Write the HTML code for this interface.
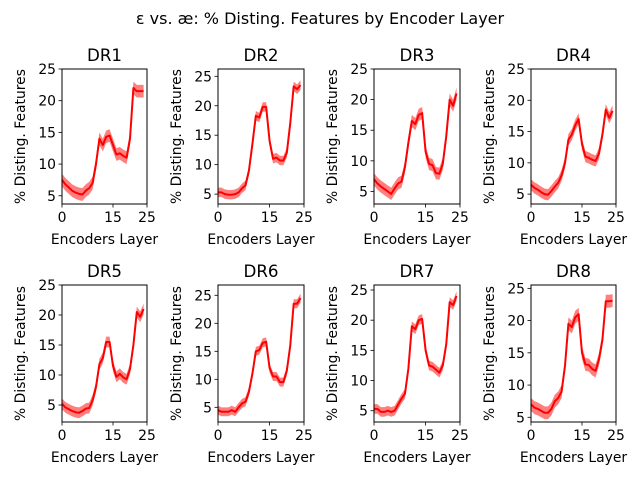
<!DOCTYPE html>
<html><head><meta charset="utf-8"><style>
body{margin:0;background:#fff}
svg{display:block;font-family:"DejaVu Sans","Liberation Sans",sans-serif}
</style></head><body>
<svg id="fig" width="640" height="480" viewBox="0 0 640 480">
<rect width="640" height="480" fill="#fff"/>
<text x="320" y="24" font-size="16" text-anchor="middle">ε vs. æ: % Disting. Features by Encoder Layer</text>
</svg>
<script>
const layers=[0,1,2,3,4,5,6,7,8,9,10,11,12,13,14,15,16,17,18,19,20,21,22,23,24];
const titles=["DR1","DR2","DR3","DR4","DR5","DR6","DR7","DR8"];
const dr1=[7.5,6.8,6.3,5.8,5.5,5.3,5.2,5.8,6.2,7,10,14,13,14.3,14.5,13,11.5,11.7,11.3,11,14,22,21.5,21.5,21.5];
const dr2=[5.3,5.3,5.0,4.9,4.9,5.0,5.3,6.0,6.5,9.0,13.5,18.3,18.0,19.8,19.8,14.0,11.0,11.2,10.7,10.7,12.0,17.0,23.3,22.8,23.5];
const dr3=[7,6.3,5.8,5.4,5,4.6,5.5,6.3,6.6,9,13,16.5,16,17.5,17.8,11.5,9.5,9.3,8,7.9,9.5,14,20,19,21];
const dr4=[6.5,6,5.7,5.3,5,4.9,5.5,6.2,6.8,8,10,13.7,14.5,16,17,13,11,10.8,10.5,10.3,11.5,14.5,18.5,17.2,18.3];
const dr5=[5.2,4.6,4.3,4,3.8,3.7,4,4.4,4.5,5.8,8,11.8,12.8,15.5,15.5,11.5,9.7,10.2,9.6,9.3,11,15,20.5,19.7,21];
const dr6=[4.5,4.2,4.2,4.2,4.5,4.2,5,5.7,6,7.8,11,15,15.2,16.5,16.7,12,10.5,10.5,9.5,9.5,11.5,16,23.5,23.5,24.5];
const dr7=[5.3,5.3,4.8,4.8,5,4.8,5,6,7,7.8,12,19,18.5,20,20.2,15,12.5,12.3,11.8,11.3,12.5,16,23,22.5,24];
const dr8=[7,6.5,6.3,6,5.7,5.7,6.3,7.5,8,9,13,19.5,19,20.5,21,15,13.2,13.1,12.5,12.2,14,17,23,23,23.1];
const errs=[1.0,0.8,1.0,0.9,0.9,0.8,0.8,1.0];
const yMins=[3.7,3.32,2.95,3.42,2.17,2.38,3.13,4.27];
const yMaxs=[25,26.24,25,25,25,26.84,25.83,25.52];
const xTicks=[0,15,25];
const yTicks=[5,10,15,20,25];
const series=[dr1,dr2,dr3,dr4,dr5,dr6,dr7,dr8];

const svg=document.getElementById('fig');
const NS='http://www.w3.org/2000/svg';
function mk(tag,attrs,parent){const e=document.createElementNS(NS,tag);for(const k in attrs)e.setAttribute(k,attrs[k]);(parent||svg).appendChild(e);return e;}
const colL=[62,218,374,531], colR=[147,304,460,616];
const rowT=[69,285], rowB=[204,422];

series.forEach((vals,i)=>{
  const r=Math.floor(i/4), c=i%4;
  const L=colL[c],R=colR[c],T=rowT[r],B=rowB[r];
  const xs=v=>L+(v-0)/(25-0)*(R-L);
  const ys=v=>B-(v-yMins[i])/(yMaxs[i]-yMins[i])*(B-T);
  const g=mk('g',{});
  
  
  const e=errs[i];
  let up=layers.map((x,k)=>xs(x)+','+ys(vals[k]+e));
  let lo=layers.map((x,k)=>xs(x)+','+ys(vals[k]-e)).reverse();
  const band=mk('polygon',{points:up.concat(lo).join(' '),fill:'#ff0000','fill-opacity':'0.5',stroke:'none'},g);
  
  
  const line=mk('polyline',{points:layers.map((x,k)=>xs(x)+','+ys(vals[k])).join(' '),fill:'none',stroke:'#ff0000','stroke-width':'2','stroke-linejoin':'round'},g);
  
  
  const frame=mk('rect',{x:L,y:T,width:R-L,height:B-T,fill:'none',stroke:'#000','stroke-width':'1'},g);
  
  
  xTicks.forEach(t=>{
    const x=xs(t);
    mk('line',{x1:x,x2:x,y1:B,y2:B+3.5,stroke:'#000','stroke-width':'0.8'},g);
    const tx=mk('text',{x:x,y:B+18,'font-size':'13.9','text-anchor':'middle'},g);
    tx.textContent=t;
    
    
  });
  yTicks.forEach(t=>{
    if(t<yMins[i]||t>yMaxs[i]+0.01)return;
    const y=ys(t);
    mk('line',{x1:L-3.5,x2:L,y1:y,y2:y,stroke:'#000','stroke-width':'0.8'},g);
    const tx=mk('text',{x:L-6,y:y+5,'font-size':'13.9','text-anchor':'end'},g);
    tx.textContent=t;
    
    
  });
  const tt=mk('text',{x:(L+R)/2,y:T-8,'font-size':'16.7','text-anchor':'middle'},g);
  tt.textContent=titles[i];
  
  
  const xl=mk('text',{x:(L+R)/2,y:B+40,'font-size':'13.9','text-anchor':'middle'},g);
  xl.textContent='Encoders Layer';
  
  
  const cy=(T+B)/2, cx=L-37;
  const yl=mk('text',{x:cx,y:cy,'font-size':'13.9','text-anchor':'middle',transform:'rotate(-90 '+cx+' '+cy+')'},g);
  yl.textContent='% Disting. Features';
  
  
});
</script>
</body></html>
